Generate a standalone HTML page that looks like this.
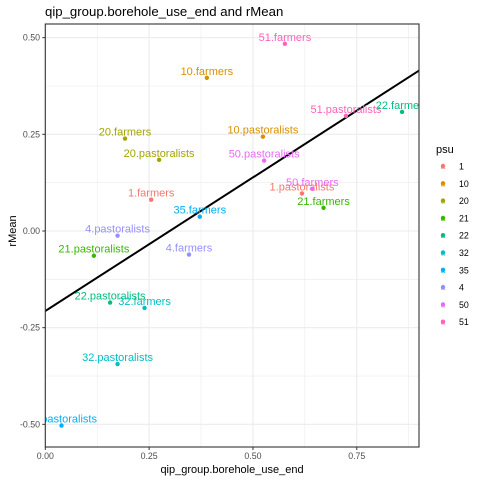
<!DOCTYPE html>
<html><head><meta charset="utf-8"><style>
body{margin:0;background:#fff;font-family:"Liberation Sans",sans-serif}
</style></head><body>
<svg id="chart" width="480" height="480" xmlns="http://www.w3.org/2000/svg" font-family="Liberation Sans, sans-serif">
<defs><clipPath id="pc"><rect x="45.3" y="24" width="373.7" height="423"/></clipPath></defs>
<g id="grid"></g>
<g id="marks" clip-path="url(#pc)"></g>
<rect x="45.3" y="24" width="373.7" height="423" fill="none" stroke="#333" stroke-width="1.1"/>
<g id="axes"></g>
<text x="45" y="16" font-size="13.2" fill="#000">qip_group.borehole_use_end and rMean</text>
<text x="232" y="473" font-size="11" text-anchor="middle" fill="#000">qip_group.borehole_use_end</text>
<text transform="translate(16,231) rotate(-90)" font-size="11" text-anchor="middle" fill="#000">rMean</text>
<text x="436" y="153" font-size="11" fill="#000">psu</text>
<g id="legend"></g>
</svg>
<script>
const labels=["51.farmers","10.farmers","22.farmers","51.pastoralists","20.farmers","10.pastoralists","20.pastoralists","50.pastoralists","1.farmers","1.pastoralists","50.farmers","21.farmers","35.farmers","4.pastoralists","21.pastoralists","4.farmers","22.pastoralists","32.farmers","32.pastoralists","35.pastoralists"];
const groups=["51","10","22","51","20","10","20","50","1","1","50","21","35","4","21","4","22","32","32","35"];
const xValues=[0.577,0.389,0.859,0.724,0.192,0.524,0.274,0.527,0.255,0.618,0.643,0.670,0.372,0.174,0.117,0.346,0.156,0.239,0.174,0.039];
const yValues=[0.484,0.396,0.308,0.298,0.239,0.244,0.184,0.182,0.081,0.097,0.109,0.060,0.037,-0.012,-0.064,-0.061,-0.185,-0.199,-0.344,-0.503];
const legendKeys=["1","10","20","21","22","32","35","4","50","51"];
const legendColors=["#F8766D","#D89000","#A3A500","#39B600","#00BF7D","#00BFC4","#00B0F6","#9590FF","#E76BF3","#FF62BC"];
const xTicks=[0,0.25,0.5,0.75];
const xTickLabels=["0.00","0.25","0.50","0.75"];
const yTicks=[-0.5,-0.25,0,0.25,0.5];
const yTickLabels=["-0.50","-0.25","0.00","0.25","0.50"];
const fitIntercept=-0.207, fitSlope=0.691;
const xMin=-0.0001,xMax=0.9;

const X=v=>45.3+415.3*v, Y=v=>231-386.7*v;
const NS="http://www.w3.org/2000/svg";
function mk(t,a,p){const e=document.createElementNS(NS,t);for(const k in a)e.setAttribute(k,a[k]);p.appendChild(e);return e;}
const grid=document.getElementById('grid'),marks=document.getElementById('marks'),axes=document.getElementById('axes'),legend=document.getElementById('legend');
for(let i=0;i<4;i++){
  let v=xTicks[i]+0.125;
  let l=mk('line',{x1:X(v),x2:X(v),y1:24,y2:447,stroke:'#ebebeb','stroke-width':0.6},grid);
  
}
for(let i=0;i<4;i++){
  let v=yTicks[i]+0.125;
  let l=mk('line',{x1:45.3,x2:419,y1:Y(v),y2:Y(v),stroke:'#ebebeb','stroke-width':0.6},grid);
  
}
xTicks.forEach((v,i)=>{
  let g=mk('line',{x1:X(v),x2:X(v),y1:24,y2:447,stroke:'#ebebeb','stroke-width':1.1},grid);
  
  mk('line',{x1:X(v),x2:X(v),y1:447,y2:450,stroke:'#333'},axes);
  let t=mk('text',{x:X(v),y:459,'font-size':8.8,fill:'#4d4d4d','text-anchor':'middle'},axes);
  t.textContent=xTickLabels[i];
  
});
yTicks.forEach((v,i)=>{
  let g=mk('line',{x1:45.3,x2:419,y1:Y(v),y2:Y(v),stroke:'#ebebeb','stroke-width':1.1},grid);
  
  mk('line',{x1:42.3,x2:45.3,y1:Y(v),y2:Y(v),stroke:'#333'},axes);
  let t=mk('text',{x:40,y:Y(v)+3,'font-size':8.8,fill:'#4d4d4d','text-anchor':'end'},axes);
  t.textContent=yTickLabels[i];
  
});
const col=g=>legendColors[legendKeys.indexOf(g)];
let fl=mk('line',{x1:X(xMin),y1:Y(fitIntercept+fitSlope*xMin),x2:X(xMax),y2:Y(fitIntercept+fitSlope*xMax),stroke:'#000','stroke-width':2},marks);

xValues.forEach((v,i)=>{
  let c=mk('circle',{cx:X(v),cy:Y(yValues[i]),r:2.2,fill:col(groups[i])},marks);
  
  let t=mk('text',{x:X(v),y:Y(yValues[i])-3,'font-size':11,fill:col(groups[i]),'text-anchor':'middle'},marks);
  t.textContent=labels[i];
  
});
legendKeys.forEach((k,i)=>{
  let y=166+17.3*i;
  let c=mk('circle',{cx:443,cy:y,r:2.2,fill:legendColors[i]},legend);
  
  let a=mk('text',{x:443,y:y+3,'font-size':8,fill:legendColors[i],'text-anchor':'middle'},legend);
  a.textContent='a';
  let t=mk('text',{x:459,y:y+3.5,'font-size':8.8,fill:'#000'},legend);
  t.textContent=k;
  
});
</script>
</body></html>
